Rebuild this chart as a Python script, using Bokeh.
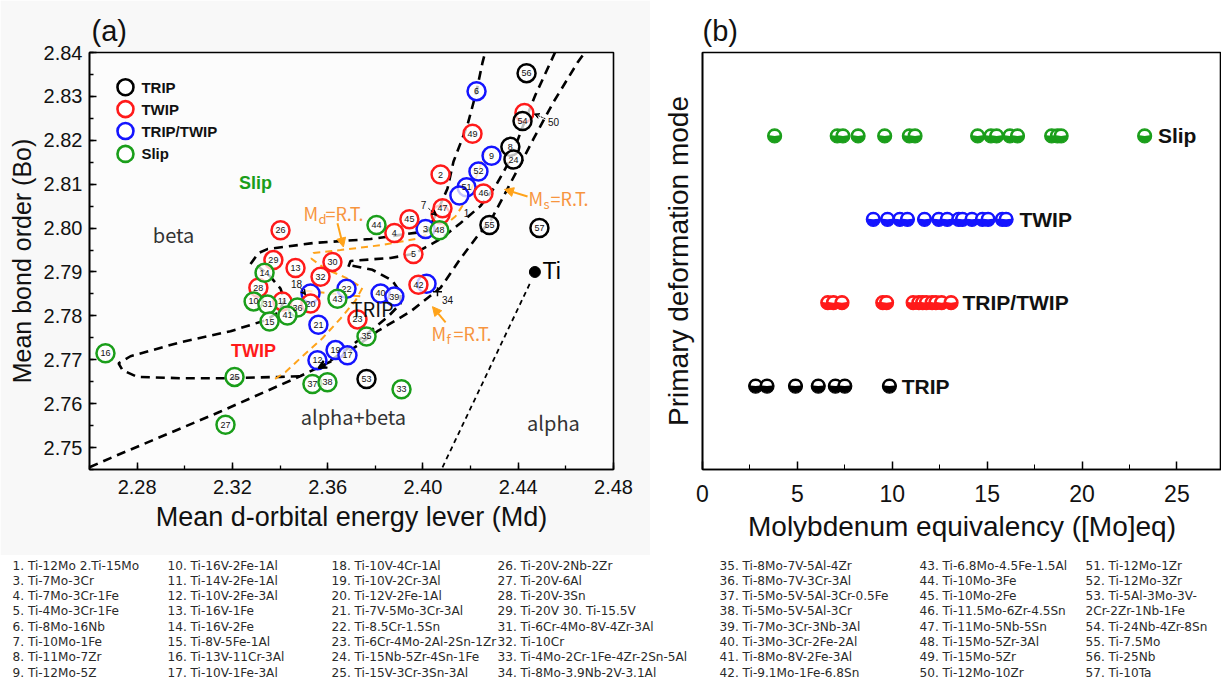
import numpy as np
from bokeh.plotting import figure
from bokeh.models import (Range1d, Label, Arrow, NormalHead, VeeHead,
                          SingleIntervalTicker, NumeralTickFormatter, FixedTicker,
                          ColumnDataSource)
from bokeh.layouts import column, row
from bokeh.core.properties import value
from bokeh.embed import file_html
from bokeh.resources import INLINE

# ---------------- panel (a) data: mean d-orbital energy (Md) vs bond order (Bo)
trip_ids = ["56", "54", "8", "24", "55", "57", "53"]
trip_md = [2.4435, 2.4418, 2.4367, 2.4380, 2.4279, 2.4489, 2.3763]
trip_bo = [2.8353, 2.8244, 2.8185, 2.8156, 2.8007, 2.8000, 2.7656]

twip_ids = ["26", "29", "13", "30", "32", "28", "11", "20", "23", "42", "5", "4",
            "45", "7", "47", "2", "49", "46", "50"]
twip_md = [2.3402, 2.3372, 2.3465, 2.3620, 2.3570, 2.3309, 2.3410, 2.3528, 2.3725,
           2.3981, 2.3960, 2.3880, 2.3943, 2.4074, 2.4082, 2.4074, 2.4208, 2.4254, 2.4426]
twip_bo = [2.7995, 2.7927, 2.7909, 2.7923, 2.7889, 2.7864, 2.7833, 2.7828, 2.7792,
           2.7871, 2.7941, 2.7989, 2.8020, 2.8031, 2.8045, 2.8122, 2.8215, 2.8079, 2.8262]

both_ids = ["6", "9", "52", "51", "1", "3", "18", "22", "40", "39", "34", "21", "19", "17", "12"]
both_md = [2.4225, 2.4288, 2.4233, 2.4183, 2.4153, 2.4011, 2.3528, 2.3679, 2.3822,
           2.3880, 2.4015, 2.3561, 2.3633, 2.3683, 2.3557]
both_bo = [2.8312, 2.8165, 2.8129, 2.8093, 2.8074, 2.7998, 2.7851, 2.7862, 2.7851,
           2.7844, 2.7873, 2.7780, 2.7722, 2.7710, 2.7699]

slip_ids = ["44", "48", "14", "43", "10", "31", "36", "41", "15", "35", "16", "25",
            "37", "38", "33", "27"]
slip_md = [2.3805, 2.4069, 2.3335, 2.3641, 2.3289, 2.3347, 2.3473, 2.3431, 2.3356,
           2.3763, 2.2667, 2.3209, 2.3536, 2.3599, 2.3910, 2.3171]
slip_bo = [2.8007, 2.7995, 2.7898, 2.7839, 2.7833, 2.7826, 2.7819, 2.7801, 2.7787,
           2.7753, 2.7715, 2.7661, 2.7645, 2.7649, 2.7633, 2.7552]

# alloys whose number is written outside the circle
outside_ids = ["1", "7", "18", "34", "50"]
outside_md = [2.4183, 2.4002, 2.3469, 2.4103, 2.4548]
outside_bo = [2.8034, 2.8052, 2.7873, 2.7837, 2.8242]

ti_md = [2.447]
ti_bo = [2.790]

# boundary curves (Md, Bo)
curve1_md = [2.3276, 2.3309, 2.3347, 2.3540, 2.3780, 2.4019, 2.4061, 2.4103, 2.4128,
             2.4187, 2.4225, 2.4250, 2.4262]
curve1_bo = [2.7918, 2.7943, 2.7952, 2.7966, 2.7975, 2.7993, 2.8038, 2.8090, 2.8151,
             2.8235, 2.8312, 2.8377, 2.8402]
curve2_md = [2.3687, 2.3696, 2.3864, 2.3960, 2.4074, 2.4157, 2.4241, 2.4304, 2.4367,
             2.4418, 2.4472, 2.4535, 2.4556]
curve2_bo = [2.7912, 2.7925, 2.7932, 2.7941, 2.7975, 2.8011, 2.8050, 2.8095, 2.8156,
             2.8230, 2.8303, 2.8377, 2.8402]
curve3_md = [2.2600, 2.2688, 2.3150, 2.3486, 2.3666, 2.3809, 2.3948, 2.4074, 2.4157,
             2.4229, 2.4283, 2.4334, 2.4397, 2.4464, 2.4548, 2.4649, 2.4682]
curve3_bo = [2.7455, 2.7476, 2.7582, 2.7663, 2.7710, 2.7765, 2.7810, 2.7864, 2.7930,
             2.7982, 2.8016, 2.8068, 2.8133, 2.8203, 2.8287, 2.8377, 2.8402]
trip_loop_md = [2.3704, 2.3788, 2.3872, 2.3906, 2.3906, 2.3855, 2.3767, 2.3675, 2.3591, 2.3561]
trip_loop_bo = [2.7914, 2.7905, 2.7880, 2.7853, 2.7828, 2.7799, 2.7760, 2.7722, 2.7690, 2.7681]
twip_loop_md = [2.3305, 2.3360, 2.3402, 2.3419, 2.3393, 2.3339, 2.3192, 2.2982, 2.2772,
                2.2722, 2.2739, 2.2801, 2.2982, 2.3192, 2.3402, 2.3507]
twip_loop_bo = [2.7914, 2.7889, 2.7862, 2.7835, 2.7808, 2.7790, 2.7765, 2.7740, 2.7708,
                2.7692, 2.7676, 2.7661, 2.7658, 2.7658, 2.7661, 2.7663]
alpha_md = [2.4082, 2.4451]
alpha_bo = [2.7455, 2.7876]
md_line_md = [2.4262, 2.4233, 2.4191, 2.4137, 2.4074, 2.3969, 2.3822, 2.3654, 2.3540,
              2.3532, 2.3591, 2.3675, 2.3746, 2.3717, 2.3654, 2.3578, 2.3486, 2.3423, 2.3372]
md_line_bo = [2.8178, 2.8129, 2.8072, 2.8027, 2.7998, 2.7975, 2.7961, 2.7950, 2.7943,
              2.7930, 2.7907, 2.7887, 2.7864, 2.7835, 2.7794, 2.7749, 2.7704, 2.7672, 2.7654]
md_line2_md = [2.3507, 2.3612, 2.3746]
md_line2_bo = [2.7857, 2.7851, 2.7844]

# ---------------- panel (b) data: [Mo]eq per row
slip_moeq = [3.8, 7.1, 7.4, 8.2, 9.6, 10.9, 11.2, 14.5, 15.2, 15.5, 16.2, 16.6, 18.4, 18.7, 18.9, 23.3]
blue_moeq = [9.0, 9.75, 10.4, 10.8, 11.7, 12.45, 12.9, 13.5, 13.7, 14.2, 14.75, 15.05, 15.8, 16.0]
red_moeq = [6.6, 6.9, 7.35, 9.5, 9.7, 11.1, 11.4, 11.6, 11.8, 12.1, 12.3, 12.6, 13.1]
trip_moeq = [2.8, 3.4, 4.9, 6.1, 7.0, 7.5, 9.85]
row_labels = ["Slip", "TWIP", "TRIP/TWIP", "TRIP"]
row_levels = [4, 3, 2, 1]

# ---------------- alloy list
alloy_cols = [
    ["1. Ti-12Mo   2.Ti-15Mo", "3. Ti-7Mo-3Cr", "4. Ti-7Mo-3Cr-1Fe", "5. Ti-4Mo-3Cr-1Fe",
     "6. Ti-8Mo-16Nb", "7. Ti-10Mo-1Fe", "8. Ti-11Mo-7Zr", "9. Ti-12Mo-5Z"],
    ["10. Ti-16V-2Fe-1Al", "11. Ti-14V-2Fe-1Al", "12. Ti-10V-2Fe-3Al", "13. Ti-16V-1Fe",
     "14. Ti-16V-2Fe", "15. Ti-8V-5Fe-1Al", "16. Ti-13V-11Cr-3Al", "17. Ti-10V-1Fe-3Al"],
    ["18. Ti-10V-4Cr-1Al", "19. Ti-10V-2Cr-3Al", "20. Ti-12V-2Fe-1Al", "21. Ti-7V-5Mo-3Cr-3Al",
     "22. Ti-8.5Cr-1.5Sn", "23. Ti-6Cr-4Mo-2Al-2Sn-1Zr", "24. Ti-15Nb-5Zr-4Sn-1Fe",
     "25. Ti-15V-3Cr-3Sn-3Al"],
    ["26. Ti-20V-2Nb-2Zr", "27. Ti-20V-6Al", "28. Ti-20V-3Sn", "29. Ti-20V    30. Ti-15.5V",
     "31. Ti-6Cr-4Mo-8V-4Zr-3Al", "32. Ti-10Cr", "33. Ti-4Mo-2Cr-1Fe-4Zr-2Sn-5Al",
     "34. Ti-8Mo-3.9Nb-2V-3.1Al"],
    ["35. Ti-8Mo-7V-5Al-4Zr", "36. Ti-8Mo-7V-3Cr-3Al", "37. Ti-5Mo-5V-5Al-3Cr-0.5Fe",
     "38. Ti-5Mo-5V-5Al-3Cr", "39. Ti-7Mo-3Cr-3Nb-3Al", "40. Ti-3Mo-3Cr-2Fe-2Al",
     "41. Ti-8Mo-8V-2Fe-3Al", "42. Ti-9.1Mo-1Fe-6.8Sn"],
    ["43. Ti-6.8Mo-4.5Fe-1.5Al", "44. Ti-10Mo-3Fe", "45. Ti-10Mo-2Fe", "46. Ti-11.5Mo-6Zr-4.5Sn",
     "47. Ti-11Mo-5Nb-5Sn", "48. Ti-15Mo-5Zr-3Al", "49. Ti-15Mo-5Zr", "50. Ti-12Mo-10Zr"],
    ["51. Ti-12Mo-1Zr", "52. Ti-12Mo-3Zr", "53. Ti-5Al-3Mo-3V-", "2Cr-2Zr-1Nb-1Fe",
     "54. Ti-24Nb-4Zr-8Sn", "55. Ti-7.5Mo", "56. Ti-25Nb", "57. Ti-10Ta"],
]

# ---------------- styles
C_TRIP, C_TWIP, C_BOTH, C_SLIP = "#000000", "#ff1a1a", "#1414ff", "#1a9e1a"
ORANGE_LINE = "#ffa31a"
ORANGE_TXT = "#f7953f"
SANS = "Liberation Sans"
CJK = "Noto Sans CJK SC"
LIST_FONT = "DejaVu Sans"

# =============================== panel (a)
pa = figure(width=650, height=555, x_range=Range1d(2.26, 2.48), y_range=Range1d(2.745, 2.84),
            output_backend="svg", toolbar_location=None,
            min_border_left=89, min_border_right=37, min_border_top=49, min_border_bottom=86,
            background_fill_color="#fcfcfc", border_fill_color="#f8f8f8")
pa.title.text = "(a)"
pa.title.text_font = SANS
pa.title.text_font_size = "29px"
pa.title.text_font_style = "normal"
pa.title.text_color = "#111"
pa.title.align = "left"
pa.title.offset = 2
pa.title.standoff = 12
pa.grid.visible = False
pa.outline_line_color = "black"
pa.outline_line_width = 1.6
for ax in (pa.xaxis, pa.yaxis):
    ax.axis_line_width = 1.6
    ax.major_tick_in = 7
    ax.major_tick_out = 0
    ax.minor_tick_in = 4
    ax.minor_tick_out = 0
    ax.major_tick_line_width = 1.5
    ax.minor_tick_line_width = 1.3
    ax.major_label_text_font = SANS
    ax.major_label_text_font_size = "20px"
    ax.major_label_text_color = "#111"
    ax.formatter = NumeralTickFormatter(format="0.00")
    ax.axis_label_text_font = SANS
    ax.axis_label_text_font_style = "normal"
    ax.axis_label_text_color = "#111"
pa.xaxis.ticker = SingleIntervalTicker(interval=0.04, num_minor_ticks=2)
pa.yaxis.ticker = SingleIntervalTicker(interval=0.01, num_minor_ticks=2)
pa.xaxis.major_label_standoff = 10
pa.yaxis.major_label_standoff = 7
pa.yaxis.axis_label = "Mean bond order (Bo)"
pa.yaxis.axis_label_text_font_size = "25px"
pa.yaxis.axis_label_standoff = 5
pa.xaxis.axis_label = "Mean d-orbital energy lever (Md)"
pa.xaxis.axis_label_text_font_size = "27px"
pa.xaxis.axis_label_standoff = 5

# boundary lines
dash_kw = dict(line_color="black", line_width=2.6, line_dash="9 6")
pa.line(curve1_md, curve1_bo, **dash_kw)
pa.line(curve2_md, curve2_bo, **dash_kw)
pa.line(curve3_md, curve3_bo, **dash_kw)
pa.line(trip_loop_md, trip_loop_bo, **dash_kw)
pa.line(twip_loop_md, twip_loop_bo, **dash_kw)
pa.line(alpha_md, alpha_bo, line_color="black", line_width=1.8, line_dash="5 4")
pa.line(md_line_md, md_line_bo, line_color=ORANGE_LINE, line_width=2, line_dash="7 5")
pa.line(md_line2_md, md_line2_bo, line_color=ORANGE_LINE, line_width=2, line_dash="7 5")
pa.add_layout(Arrow(end=VeeHead(size=8, line_color="black", line_width=2),
                    x_start=trip_loop_md[-2], y_start=trip_loop_bo[-2],
                    x_end=trip_loop_md[-1], y_end=trip_loop_bo[-1],
                    line_color="black", line_width=2.6))


def draw_group(p, md, bo, ids, color):
    tags = ["" if i in outside_ids else i for i in ids]
    src = ColumnDataSource(dict(x=md, y=bo, t=tags))
    p.scatter("x", "y", source=src, size=18, fill_color="white", fill_alpha=0.75,
              line_color=color, line_width=2.5)
    p.text("x", "y", text="t", source=src, text_font=value(SANS), text_font_size="9px",
           text_align="center", text_baseline="middle", text_color="#111")


draw_group(pa, both_md, both_bo, both_ids, C_BOTH)
draw_group(pa, twip_md, twip_bo, twip_ids, C_TWIP)
draw_group(pa, slip_md, slip_bo, slip_ids, C_SLIP)
draw_group(pa, trip_md, trip_bo, trip_ids, C_TRIP)

pa.text(outside_md, outside_bo, text=outside_ids, text_font=value(SANS), text_font_size="10px",
        text_align="center", text_baseline="middle", text_color="#111")
pa.scatter([2.4061], [2.7855], marker="cross", size=9, line_color="black", line_width=1.5)

# small pointer arrows
for xs, ys, xe, ye in [(2.4023, 2.8045, 2.4057, 2.8029), (2.3486, 2.7864, 2.3507, 2.7848),
                       (2.4514, 2.8249, 2.4468, 2.8260)]:
    pa.add_layout(Arrow(end=VeeHead(size=5, line_color="black", line_width=1),
                        x_start=xs, y_start=ys, x_end=xe, y_end=ye,
                        line_color="black", line_width=1, line_dash="2 1"))

# Ti point
pa.scatter(ti_md, ti_bo, size=11, fill_color="black", line_color="black")
pa.add_layout(Label(x=2.4502, y=2.7903, text="Ti", text_font=SANS, text_font_size="23px",
                    text_baseline="middle", text_color="black"))

# legend
leg_y = [2.8321, 2.8271, 2.8221, 2.8169]
leg_c = [C_TRIP, C_TWIP, C_BOTH, C_SLIP]
leg_t = ["TRIP", "TWIP", "TRIP/TWIP", "Slip"]
pa.scatter([2.2751] * 4, leg_y, size=16, fill_color="white", line_color=leg_c, line_width=2.6)
for yy, tt in zip(leg_y, leg_t):
    pa.add_layout(Label(x=2.2818, y=yy, text=tt, text_font=SANS, text_font_size="15px",
                        text_font_style="bold", text_baseline="middle", text_color="#111"))

# region annotations
pa.add_layout(Label(x=2.3297, y=2.8102, text="Slip", text_font=SANS, text_font_size="18px",
                    text_font_style="bold", text_align="center", text_baseline="middle",
                    text_color=C_SLIP))
pa.add_layout(Label(x=2.3289, y=2.7720, text="TWIP", text_font=SANS, text_font_size="18px",
                    text_font_style="bold", text_align="center", text_baseline="middle",
                    text_color=C_TWIP))
pa.add_layout(Label(x=2.3696, y=2.7817, text="TRIP", text_font=CJK, text_font_size="20px",
                    text_baseline="middle", text_color="#111"))
for tx, xx, yy in [("beta", 2.2953, 2.7986), ("alpha+beta", 2.3708, 2.7570), ("alpha", 2.4548, 2.7557)]:
    pa.add_layout(Label(x=xx, y=yy, text=tx, text_font=CJK, text_font_size="20px",
                        text_align="center", text_baseline="middle", text_color="#333"))

# M_x = R.T. labels
for sub, xx, yy in [("d", 2.3498, 2.8034), ("s", 2.4443, 2.8068), ("f", 2.4036, 2.7760)]:
    pa.add_layout(Label(x=xx, y=yy, text="M", text_font=CJK, text_font_size="18px",
                        text_baseline="middle", text_color=ORANGE_TXT))
    pa.add_layout(Label(x=xx, y=yy, x_offset=15, y_offset=-5, text=sub, text_font=CJK,
                        text_font_size="13px", text_baseline="middle", text_color=ORANGE_TXT))
    pa.add_layout(Label(x=xx, y=yy, x_offset=22, text="=R.T.", text_font=CJK,
                        text_font_size="18px", text_baseline="middle", text_color=ORANGE_TXT))
for xs, ys, xe, ye in [(2.3641, 2.8011, 2.3666, 2.7957), (2.4439, 2.8072, 2.4342, 2.8088),
                       (2.4095, 2.7785, 2.4040, 2.7821)]:
    pa.add_layout(Arrow(end=NormalHead(size=9, fill_color=ORANGE_LINE, line_color=ORANGE_LINE),
                        x_start=xs, y_start=ys, x_end=xe, y_end=ye,
                        line_color=ORANGE_LINE, line_width=2))

# =============================== panel (b)
pb = figure(width=571, height=555, x_range=Range1d(0, 27.35), y_range=Range1d(0, 5),
            output_backend="svg", toolbar_location=None,
            min_border_left=52, min_border_right=0, min_border_top=52, min_border_bottom=77)
pb.title.text = "(b)"
pb.title.text_font = SANS
pb.title.text_font_size = "29px"
pb.title.text_font_style = "normal"
pb.title.text_color = "#111"
pb.title.align = "left"
pb.title.offset = 0
pb.title.standoff = 12
pb.grid.visible = False
pb.outline_line_color = "black"
pb.outline_line_width = 1.6
pb.xaxis.ticker = SingleIntervalTicker(interval=5, num_minor_ticks=2)
pb.xaxis.axis_line_width = 1.6
pb.xaxis.major_tick_in = 8
pb.xaxis.major_tick_out = 0
pb.xaxis.minor_tick_in = 5
pb.xaxis.minor_tick_out = 0
pb.xaxis.major_tick_line_width = 1.5
pb.xaxis.major_label_text_font = SANS
pb.xaxis.major_label_text_font_size = "23px"
pb.xaxis.major_label_text_color = "#111"
pb.xaxis.major_label_standoff = 15
pb.xaxis.axis_label = "Molybdenum equivalency ([Mo]eq)"
pb.xaxis.axis_label_text_font = SANS
pb.xaxis.axis_label_text_font_size = "28px"
pb.xaxis.axis_label_text_font_style = "normal"
pb.xaxis.axis_label_text_color = "#111"
pb.xaxis.axis_label_standoff = 6
pb.yaxis.ticker = FixedTicker(ticks=[])
pb.yaxis.axis_line_width = 1.6
pb.yaxis.axis_label = "Primary deformation mode"
pb.yaxis.axis_label_text_font = SANS
pb.yaxis.axis_label_text_font_size = "28px"
pb.yaxis.axis_label_text_font_style = "normal"
pb.yaxis.axis_label_text_color = "#111"
pb.yaxis.axis_label_standoff = 9

for vals, lvl, col in [(slip_moeq, 4, C_SLIP), (blue_moeq, 3, C_BOTH),
                       (red_moeq, 2, C_TWIP), (trip_moeq, 1, C_TRIP)]:
    for v in vals:
        pb.scatter([v], [lvl], size=14, fill_color=col, line_color=col, line_width=1.2)
        pb.wedge([v], [lvl], radius=5, radius_units="screen", start_angle=0.12,
                 end_angle=np.pi - 0.12, fill_color="white", line_color=None)

for lab, lvl, xx in zip(row_labels, row_levels, [24.0, 16.7, 13.7, 10.5]):
    pb.add_layout(Label(x=xx, y=lvl, text=lab, text_font=SANS, text_font_size="21px",
                        text_font_style="bold", text_baseline="middle", text_color="#111"))

# =============================== alloy list
pl = figure(width=1221, height=127, x_range=Range1d(0, 1221), y_range=Range1d(127, 0),
            output_backend="svg", toolbar_location=None, min_border=0)
pl.axis.visible = False
pl.grid.visible = False
pl.outline_line_color = None
col_x = [12, 167, 331, 497, 719, 919, 1085]
for cx, entries in zip(col_x, alloy_cols):
    ys = [10 + 15.3 * k for k in range(len(entries))]
    pl.text([cx] * len(entries), ys, text=entries, text_font=value(LIST_FONT), text_font_size="12.1px",
            text_baseline="middle", text_align="left", text_color="#2a2a2a")

layout = column(row(pa, pb), pl)
open("out.html", "w").write(file_html(layout, INLINE))
